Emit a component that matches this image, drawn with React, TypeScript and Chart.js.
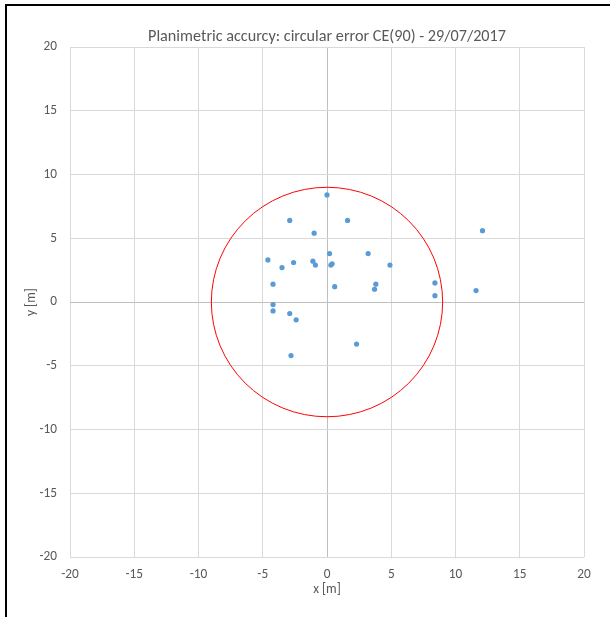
import React, { useEffect, useRef } from "react";
import { Chart, registerables } from "chart.js";

Chart.register(...registerables);

const titleText = "Planimetric accurcy: circular error CE(90) - 29/07/2017";
const xAxisTitle = "x [m]";
const yAxisTitle = "y [m]";

const pointsX = [
  0.0, -2.9, 1.6, -1.0, 12.1, 0.2, 3.2, -4.6, -2.6, -1.1, -0.9, 0.3, 0.4, 4.9,
  -3.5, -4.2, 0.6, 3.8, 3.7, 8.4, 8.4, 11.6, -4.2, -4.2, -2.9, -2.4, 2.3, -2.8,
];
const pointsY = [
  8.4, 6.4, 6.4, 5.4, 5.6, 3.8, 3.8, 3.3, 3.1, 3.2, 2.9, 2.9, 3.0, 2.9,
  2.7, 1.4, 1.2, 1.4, 1.0, 1.5, 0.5, 0.9, -0.2, -0.7, -0.9, -1.4, -3.3, -4.2,
];
const ce90Radius = 9;
const axisMin = -20;
const axisMax = 20;
const tickStep = 5;

const FONT = "Carlito, 'Liberation Sans Narrow', 'Open Sans', sans-serif";

const circlePlugin = {
  id: "ceCircle",
  beforeDatasetsDraw(chart: any) {
    const { ctx, scales } = chart;
    const x = scales.x;
    const y = scales.y;
    const cx = x.getPixelForValue(0);
    const cy = y.getPixelForValue(0);
    const rx = Math.abs(x.getPixelForValue(ce90Radius) - cx);
    const ry = Math.abs(y.getPixelForValue(ce90Radius) - cy);
    ctx.save();
    ctx.beginPath();
    ctx.ellipse(cx, cy, rx, ry, 0, 0, Math.PI * 2);
    ctx.strokeStyle = "#ff0000";
    ctx.lineWidth = 1;
    ctx.stroke();
    ctx.restore();
  },
};

export default function App() {
  const ref = useRef<HTMLCanvasElement | null>(null);
  useEffect(() => {
    if (!ref.current) return;
    Chart.defaults.font.family = FONT;
    const data = pointsX.map((x, i) => ({ x, y: pointsY[i] }));
    const gridColor = (c: any) => (c.tick && c.tick.value === 0 ? "#bfbfbf" : "#d9d9d9");
    const chart = new Chart(ref.current, {
      type: "scatter",
      data: {
        datasets: [
          {
            label: "points",
            data,
            backgroundColor: "#5b9bd5",
            borderColor: "#5b9bd5",
            borderWidth: 0,
            pointRadius: 2.6,
          },
        ],
      },
      options: {
        animation: false,
        responsive: false,
        layout: { padding: { top: 0, left: 0, right: 26, bottom: 0 } },
        plugins: {
          legend: { display: false },
          tooltip: { enabled: false },
          title: {
            display: true,
            fullSize: false,
            text: titleText,
            color: "#595959",
            font: { size: 16.2, weight: "normal", family: FONT },
            padding: { top: 27, bottom: 0.6 },
          },
        },
        scales: {
          x: {
            type: "linear",
            min: axisMin,
            max: axisMax,
            ticks: { stepSize: tickStep, color: "#595959", font: { size: 13.3 }, padding: 10 },
            grid: { color: gridColor, drawTicks: false },
            border: { display: false },
            title: { display: true, text: xAxisTitle, color: "#595959", font: { size: 13.3 }, padding: { top: 0, bottom: 19 } },
            afterFit: (s: any) => { s.height = 60; },
          },
          y: {
            type: "linear",
            min: axisMin,
            max: axisMax,
            ticks: { stepSize: tickStep, color: "#595959", font: { size: 13.3 }, padding: 13 },
            grid: { color: gridColor, drawTicks: false },
            border: { display: false },
            title: { display: true, text: yAxisTitle, color: "#595959", font: { size: 13.3 }, padding: { top: 24, bottom: 0 } },
            afterFit: (s: any) => { s.width = 70; },
          },
        },
      },
      plugins: [circlePlugin],
    });
    return () => chart.destroy();
  }, []);
  return (
    <div style={{ position: "absolute", left: 0, top: 0, width: 610, height: 617, background: "#fff" }}>
      <canvas ref={ref} width={610} height={617} style={{ position: "absolute", left: 0, top: 0 }} />
      <div style={{ position: "absolute", left: 5, top: 4, width: 605, height: 613, borderTop: "2px solid #000", borderLeft: "2px solid #000", boxSizing: "border-box", pointerEvents: "none" }} />
    </div>
  );
}
